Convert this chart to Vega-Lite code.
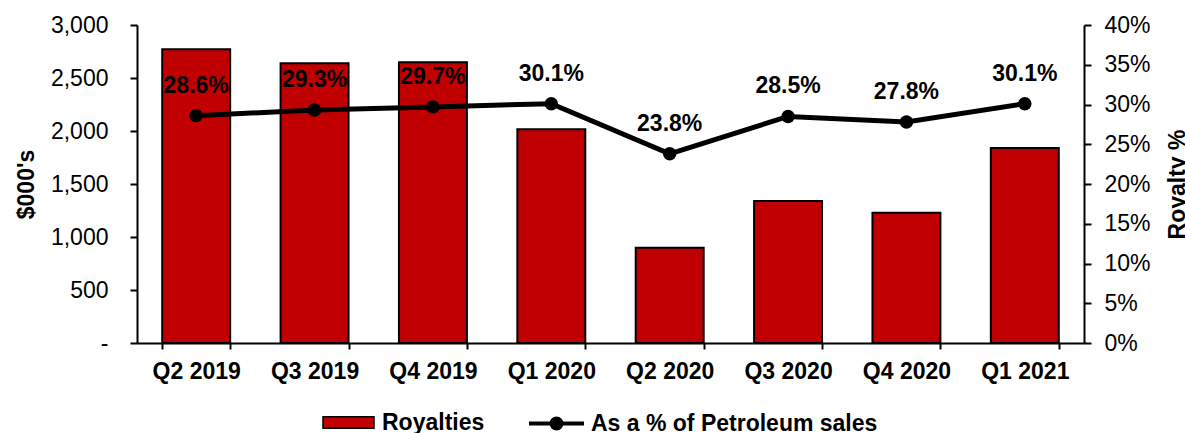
{
  "$schema": "https://vega.github.io/schema/vega-lite/v6.json",
  "width": 947,
  "height": 318,
  "autosize": {"type": "none"},
  "padding": {"left": 137, "top": 25, "right": 101, "bottom": 90},
  "background": "white",
  "config": {
    "view": {"stroke": null},
    "font": "Liberation Sans",
    "axis": {
      "labelFont": "Liberation Sans",
      "titleFont": "Liberation Sans",
      "labelColor": "black",
      "titleColor": "black",
      "domainColor": "black",
      "tickColor": "black",
      "domainWidth": 2,
      "tickWidth": 2,
      "grid": false,
      "labelFontSize": 23,
      "titleFontSize": 23,
      "titleFontWeight": "bold"
    },
    "legend": {
      "labelFont": "Liberation Sans",
      "labelFontSize": 23,
      "labelFontWeight": "bold",
      "labelColor": "black",
      "labelLimit": 0,
      "padding": 0
    }
  },
  "data": {
    "values": [
      {"quarter": "Q2 2019", "royalties": 2771, "pct": 0.286},
      {"quarter": "Q3 2019", "royalties": 2638, "pct": 0.293},
      {"quarter": "Q4 2019", "royalties": 2648, "pct": 0.297},
      {"quarter": "Q1 2020", "royalties": 2016, "pct": 0.301},
      {"quarter": "Q2 2020", "royalties": 899, "pct": 0.238},
      {"quarter": "Q3 2020", "royalties": 1340, "pct": 0.285},
      {"quarter": "Q4 2020", "royalties": 1229, "pct": 0.278},
      {"quarter": "Q1 2021", "royalties": 1839, "pct": 0.301}
    ]
  },
  "encoding": {
    "x": {
      "field": "quarter",
      "type": "ordinal",
      "sort": null,
      "scale": {"paddingInner": 0.426, "paddingOuter": 0.213},
      "axis": {
        "title": null,
        "labelAngle": 0,
        "labelFontWeight": "bold",
        "tickBand": "extent",
        "tickSize": 6,
        "labelPadding": 11
      }
    }
  },
  "layer": [
    {
      "mark": {"type": "bar", "stroke": "black", "strokeWidth": 2},
      "encoding": {
        "y": {
          "field": "royalties",
          "type": "quantitative",
          "scale": {"domain": [0, 3000], "nice": false},
          "axis": {
            "orient": "left",
            "title": "$000's",
            "values": [0, 500, 1000, 1500, 2000, 2500, 3000],
            "labelExpr": "datum.value == 0 ? '-' : format(datum.value, ',')",
            "tickSize": 7,
            "labelPadding": 22,
            "titlePadding": 12
          }
        },
        "fill": {
          "datum": "Royalties",
          "type": "nominal",
          "scale": {"range": ["#C00000"]},
          "legend": {
            "title": null,
            "orient": "none",
            "legendX": 185,
            "legendY": 371,
            "symbolType": "M-1,-0.23H1V0.23H-1Z",
            "symbolSize": 2601,
            "symbolStrokeColor": "black",
            "symbolStrokeWidth": 1.5,
            "symbolOpacity": 1,
            "labelOffset": 7
          }
        }
      }
    },
    {
      "encoding": {
        "y": {
          "field": "pct",
          "type": "quantitative",
          "scale": {"domain": [0, 0.4], "nice": false},
          "axis": {
            "orient": "right",
            "title": "Royalty %",
            "format": ".0%",
            "values": [0, 0.05, 0.1, 0.15, 0.2, 0.25, 0.3, 0.35, 0.4],
            "tickSize": 7,
            "labelPadding": 13,
            "titleAngle": 270,
            "titlePadding": 39
          }
        }
      },
      "layer": [
        {
          "mark": {"type": "line", "strokeWidth": 5},
          "encoding": {
            "stroke": {
              "datum": "As a % of Petroleum sales",
              "type": "nominal",
              "scale": {"range": ["black"]},
              "legend": {
                "title": null,
                "orient": "none",
                "legendX": 390,
                "legendY": 369,
                "symbolType": "M-1,0H1M0.18,0A0.18,0.18 0 1,1 -0.18,0A0.18,0.18 0 1,1 0.18,0Z",
                "symbolSize": 3025,
                "symbolStrokeWidth": 4,
                "symbolFillColor": "black",
                "labelOffset": 5,
                "encode": {"symbols": {"update": {"fill": {"value": "black"}, "stroke": {"value": "black"}, "strokeWidth": {"value": 4}}}}
              }
            }
          }
        },
        {
          "mark": {"type": "point", "filled": true, "size": 180, "color": "black", "opacity": 1},
          "encoding": {}
        },
        {
          "mark": {"type": "text", "fontSize": 23, "fontWeight": "bold", "color": "black", "dy": -23, "baseline": "alphabetic", "font": "Liberation Sans"},
          "encoding": {
            "text": {"field": "pct", "type": "quantitative", "format": ".1%"}
          }
        }
      ]
    }
  ],
  "resolve": {"scale": {"y": "independent"}}
}
